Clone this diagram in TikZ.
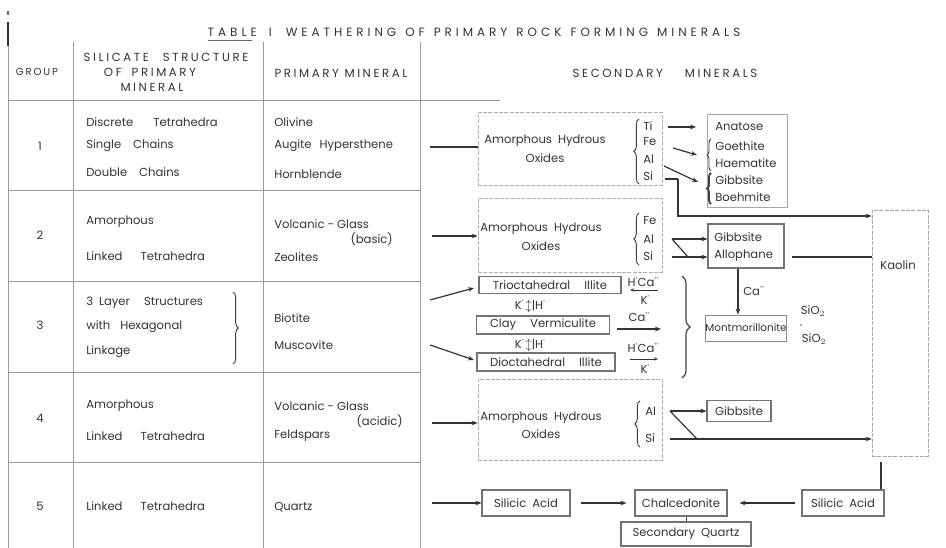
\documentclass[tikz,border=0pt]{standalone}
\usepackage{fontspec}
\setmainfont{Poppins}
\usetikzlibrary{arrows.meta,decorations.pathreplacing}
\newdimen\pxu \pxu=0.75pt
\newcommand\myfs{\fontsize{8.7}{10}\selectfont}
\newcommand\hdfs{\fontsize{8.8}{10}\selectfont\addfontfeature{LetterSpace=22}}
\newcommand\ion[2]{#1\raisebox{0.75ex}{\fontsize{7}{7}\selectfont #2}}
\newcommand\gap{\hspace{4.5pt}}
\newcommand\wg[1]{\hspace{#1\pxu}}
\begin{document}
\begin{tikzpicture}[x=0.75pt,y=-0.75pt,
  every node/.style={font=\myfs, text=black!80, inner sep=0pt},
  tl/.style={draw=black!40, line width=0.5pt},
  bigbox/.style={draw=black!30, line width=0.5pt, dash pattern=on 3pt off 1pt},
  sbox/.style={draw=black!55, line width=0.8pt},
  arr/.style={-{Stealth[length=4.5pt,width=3.5pt]}, line width=0.9pt, draw=black!80},
  ln/.style={line width=0.9pt, draw=black!80},
  brc/.style={decorate, decoration={brace, amplitude=4pt}, line width=0.7pt, draw=black!75},
  lt/.style={anchor=west}]
\useasboundingbox (0,0) rectangle (946,548);

% ---------- table frame ----------
\draw[line width=1.2pt, black!80] (8,22) -- (8,46);
\draw[line width=0.8pt, black!60] (8,11) -- (8,15);
\draw[tl] (8,46) -- (8,548);
\draw[tl] (73,42) -- (73,548);
\draw[tl] (263,42) -- (263,548);
\draw[tl] (420,42) -- (420,548);
\foreach \yy in {100,190,281,372,462} \draw[tl] (8,\yy) -- (420,\yy);
\draw[tl] (420,100) -- (500,100);

% ---------- title and headers ----------
\node[font=\fontsize{9}{10}\selectfont\addfontfeature{LetterSpace=33}] (title) at (474,32) {TABLE\wg{12}I\wg{14}WEATHERING\wg{9}OF\wg{9}PRIMARY\wg{9}ROCK\wg{9}FORMING\wg{9}MINERALS};
\draw[black!60, line width=0.5pt] (208,40) -- (252,40);
\node[font=\fontsize{7.6}{8}\selectfont\addfontfeature{LetterSpace=18}] (hgroup) at (37,72) {GROUP};
\node[font=\hdfs] (hsil1) at (166,57) {SILICATE\wg{14}STRUCTURE};
\node[font=\hdfs] (hsil2) at (150,72) {OF\wg{10}PRIMARY};
\node[font=\hdfs] (hsil3) at (152,87) {MINERAL};
\node[font=\hdfs] (hprim) at (341,73) {PRIMARY MINERAL};
\node[font=\hdfs] (hsec) at (665,73) {SECONDARY\wg{22}MINERALS};

% ---------- group numbers ----------
\node (n1) at (40,146) {1};
\node (n2) at (40,235) {2};
\node (n3) at (40,325) {3};
\node (n4) at (40,418) {4};
\node (n5) at (40,506) {5};

% ---------- silicate structures ----------
\node[lt] (s11) at (86,122) {Discrete\wg{20}Tetrahedra};
\node[lt] (s12) at (86,146) {Single\wg{12}Chains};
\node[lt] (s13) at (86,172) {Double\wg{12}Chains};
\node[lt] (s21) at (86,222) {Amorphous};
\node[lt] (s22) at (86,256) {Linked\wg{18}Tetrahedra};
\node[lt] (s31) at (86,303) {3\wg{6}Layer\wg{14}Structures};
\node[lt] (s32) at (86,327) {with\wg{10}Hexagonal};
\node[lt] (s33) at (86,352) {Linkage};
\draw[brc] (233,292) -- (233,364);
\node[lt] (s41) at (86,406) {Amorphous};
\node[lt] (s42) at (86,436) {Linked\wg{18}Tetrahedra};
\node[lt] (s51) at (86,506) {Linked\wg{18}Tetrahedra};

% ---------- primary minerals ----------
\node[lt] (p11) at (274,122) {Olivine};
\node[lt] (p12) at (274,146) {Augite\wg{8}Hypersthene};
\node[lt] (p13) at (274,174) {Hornblende};
\node[lt] (p21) at (274,224) {Volcanic - Glass};
\node[anchor=east] (p22) at (393,239) {(basic)};
\node[lt] (p23) at (274,257) {Zeolites};
\node[lt] (p31) at (274,318) {Biotite};
\node[lt] (p32) at (274,345) {Muscovite};
\node[lt] (p41) at (274,406) {Volcanic - Glass};
\node[anchor=east] (p42) at (403,421) {(acidic)};
\node[lt] (p43) at (274,436) {Feldspars};
\node[lt] (p51) at (274,507) {Quartz};

% ---------- group 1 ----------
\node[bigbox, minimum width=184\pxu, minimum height=73\pxu] (ox1) at (570,149) {};
\node (ox1a) at (545,141) {Amorphous\gap Hydrous};
\node (ox1b) at (545,158) {Oxides};
\node[lt] (ti1) at (643,126) {Ti};
\node[lt] (fe1) at (643,142) {Fe};
\node[lt] (al1) at (643,159) {Al};
\node[lt] (si1) at (643,176) {Si};
\draw[brc] (639,184) -- (639,119);
\draw[ln] (430,147) -- (ox1.west |- 430,147);

\node[draw=black!35, line width=0.5pt, minimum width=80\pxu, minimum height=93\pxu] (an1) at (747,161) {};
\node[lt] (ana) at (715,127) {Anatose};
\node[lt] (goe) at (715,146) {Goethite};
\node[lt] (hae) at (715,163) {Haematite};
\node[lt] (gib1) at (715,180) {Gibbsite};
\node[lt] (boe) at (715,197) {Boehmite};
\draw[brc, decoration={brace, amplitude=3pt}] (711,171) -- (711,139);
\draw[brc, line width=1.4pt, decoration={brace, amplitude=3pt}] (711,204) -- (711,173);

\draw[arr] (668,127) -- (696,127);
\draw[arr] (673,148) -- (697,155);
\draw[arr] (664,166) -- (698,182);
\draw[ln] (665,179) -- (678,179);
\node[draw=black!35, line width=0.5pt, dash pattern=on 3pt off 1pt, minimum width=56\pxu, minimum height=246\pxu] (kao) at (900,333) {};
\node (kaot) at (898,265) {Kaolin};
\draw[arr] (678,179) -- (678,216) -- (kao.west |- 0,216);

% ---------- group 2 ----------
\node[bigbox, minimum width=184\pxu, minimum height=74\pxu] (ox2) at (570,235) {};
\node (ox2a) at (541,229) {Amorphous\gap Hydrous};
\node (ox2b) at (541,246) {Oxides};
\node[lt] (fe2) at (643,221) {Fe};
\node[lt] (al2) at (643,239) {Al};
\node[lt] (si2) at (643,256) {Si};
\draw[brc] (639,265) -- (639,213);
\draw[arr] (432,236) -- (ox2.west |- 0,236);

\node[sbox, minimum width=76\pxu, minimum height=44\pxu] (ga) at (746,246) {};
\node[lt] (gib2) at (714,237) {Gibbsite};
\node[lt] (allo) at (714,256) {Allophane};
\draw[arr] (672,239) -- (ga.west |- 0,239);
\draw[ln] (672,239) -- (688,257);
\draw[arr] (672,257) -- (ga.west |- 0,257);
\draw[ln] (792,257) -- (kao.west |- 0,257);

% ---------- group 3 ----------
\draw[arr] (430,300) -- (474,288);
\draw[arr] (430,345) -- (474,360);
\node[sbox, minimum width=142\pxu, minimum height=17\pxu] (tri) at (550,285) {Trioctahedral\wg{14}Illite};
\node (kh1) at (530,306) {\ion{K}{·}\,$\updownarrow$|\ion{H}{·}};
\node[sbox, minimum width=133\pxu, minimum height=18\pxu] (cv) at (543,325) {Clay\wg{14}Vermiculite};
\node (kh2) at (530,345) {\ion{K}{·}\,$\updownarrow$|\ion{H}{·}};
\node[sbox, minimum width=138\pxu, minimum height=18\pxu] (dio) at (546,362) {Dioctahedral\wg{14}Illite};

\node (hc1) at (643,282) {\ion{H}{·}\ion{Ca}{··}};
\draw[black!80, line width=0.6pt, {Stealth[length=3pt,width=2.5pt]}-] (630,290) -- (658,290);
\node (k1) at (645,300) {\ion{K}{·}};
\node (ca3) at (639,317) {\ion{Ca}{··}};
\draw[arr] (617,329) -- (661,329);
\node (hc2) at (643,348) {\ion{H}{·}\ion{Ca}{··}};
\draw[black!80, line width=0.6pt, -{Stealth[length=3pt,width=2.5pt]}] (630,359) -- (658,359);
\node (k2) at (645,369) {\ion{K}{·}};
\draw[brc, line width=0.9pt, decoration={brace, amplitude=6pt}] (682,276) -- (682,378);

\node[draw=black!45, line width=0.6pt, minimum width=78\pxu, minimum height=26\pxu, font=\fontsize{7.8}{9}\selectfont] (mont) at (746,328) {Montmorillonite};
\draw[arr] (ga.south -| 738,0) -- (mont.north -| 738,0);
\node[lt] (ca2) at (743,291) {\ion{Ca}{··}};
\node (sio1) at (813,311) {SiO$_2$};
\node (sio2) at (814,339) {SiO$_2$};
\fill[black!60] (801,325) circle (0.8);

% ---------- group 4 ----------
\node[bigbox, minimum width=184\pxu, minimum height=81\pxu] (ox4) at (570,420) {};
\node (ox4a) at (541,418) {Amorphous\gap Hydrous};
\node (ox4b) at (541,434) {Oxides};
\node[lt] (al4) at (645,411) {Al};
\node[lt] (si4) at (645,438) {Si};
\draw[brc] (640,447) -- (640,401);
\draw[arr] (432,423) -- (ox4.west |- 0,423);
\node[sbox, minimum width=64\pxu, minimum height=21\pxu] (gb4) at (739,411) {Gibbsite};
\draw[arr] (670,411) -- (gb4.west);
\draw[ln] (670,411) -- (697,439);
\draw[arr] (670,439) -- (kao.west |- 0,439);

% ---------- group 5 ----------
\node[sbox, minimum width=88\pxu, minimum height=26\pxu] (sa1) at (526,503) {Silicic\gap Acid};
\node[sbox, minimum width=92\pxu, minimum height=26\pxu] (ch) at (681,503) {Chalcedonite};
\node[sbox, minimum width=130\pxu, minimum height=24\pxu] (sq) at (686,534) {Secondary\gap Quartz};
\node[sbox, minimum width=82\pxu, minimum height=26\pxu] (sa2) at (843,503) {Silicic\gap Acid};
\draw[arr] (432,503) -- (sa1.west);
\draw[arr] ([xshift=10\pxu]sa1.east) -- ([xshift=-8\pxu]ch.west);
\draw[arr] ([xshift=-6\pxu]sa2.west) -- ([xshift=12\pxu]ch.east);
\draw[line width=0.6pt, black!70] (ch.south -| sq.north) -- (sq.north);
\draw[ln] (kao.south -| 881,0) ++(0,6) -- (sa2.north -| 881,0) ++(0,-6);
\end{tikzpicture}
\end{document}
